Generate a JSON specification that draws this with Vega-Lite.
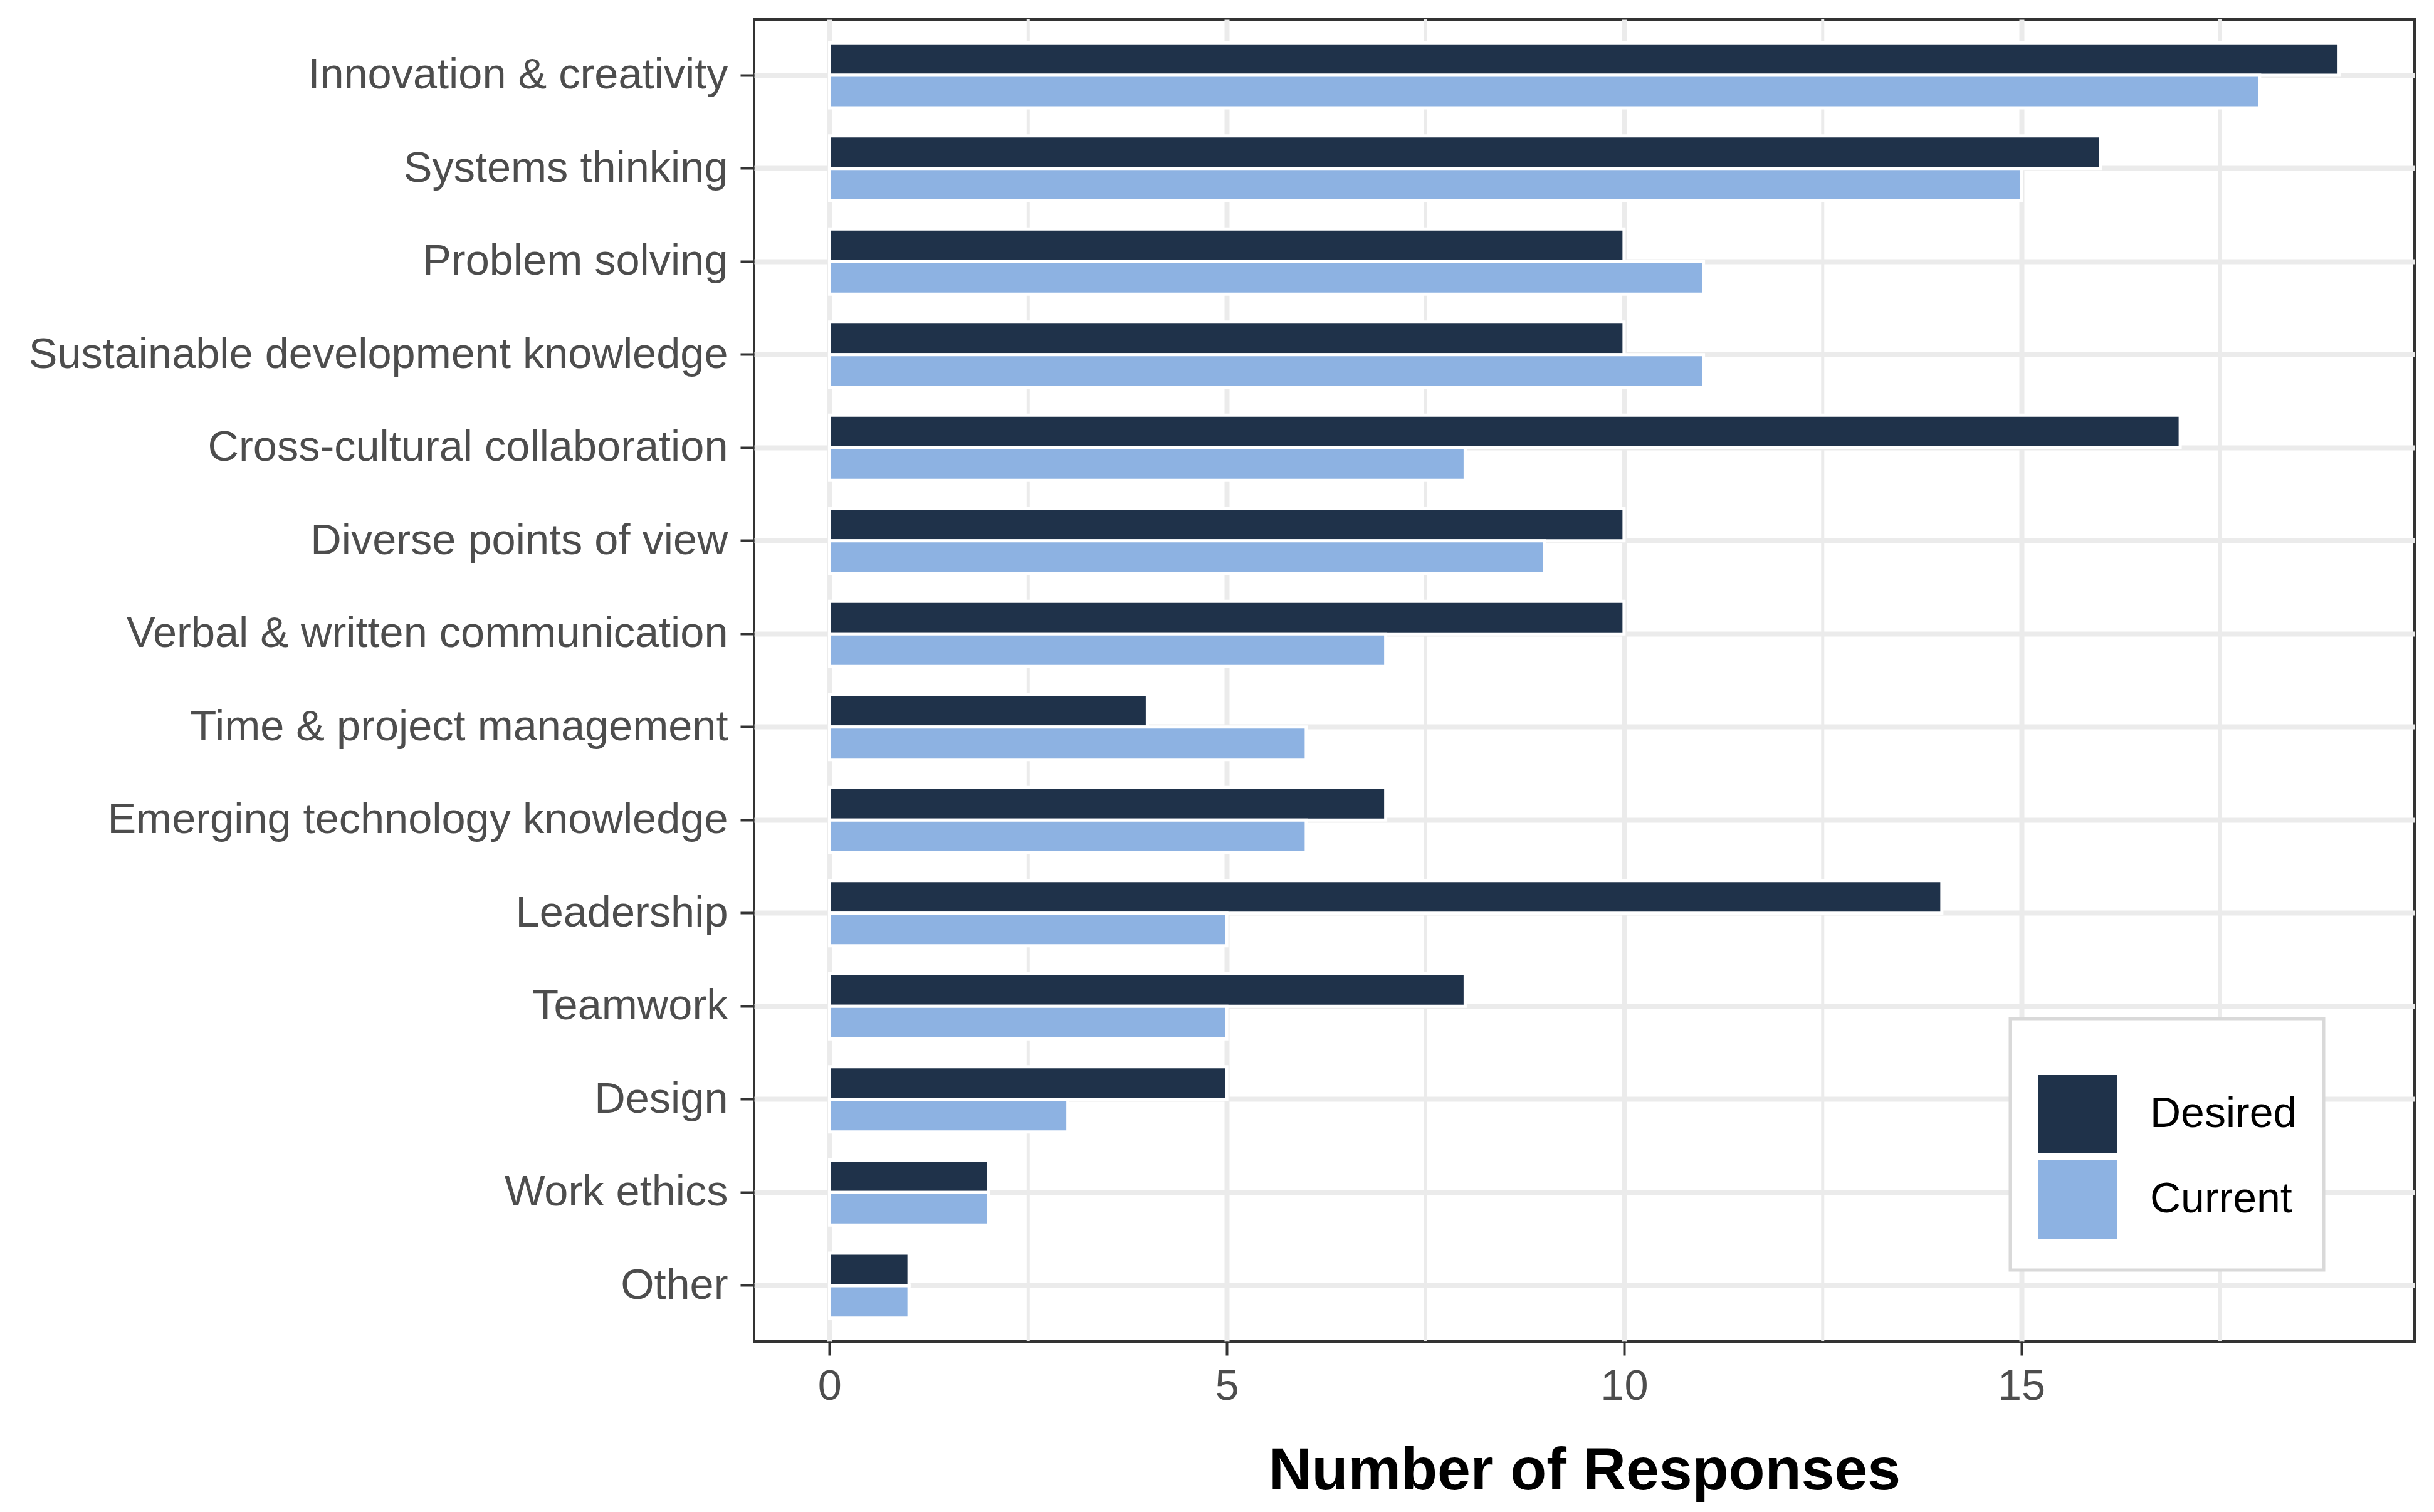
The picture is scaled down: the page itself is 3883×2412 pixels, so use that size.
{
  "$schema": "https://vega.github.io/schema/vega-lite/v6.json",
  "width": 2649,
  "height": 2109,
  "autosize": {"type": "none"},
  "padding": {"left": 1203, "top": 31, "right": 31, "bottom": 272},
  "background": "white",
  "config": {
    "view": {"stroke": "#333333", "strokeWidth": 4},
    "font": "Liberation Sans"
  },
  "datasets": {
    "minor": [{"v": 2.5}, {"v": 7.5}, {"v": 12.5}, {"v": 17.5}],
    "skills": [
      {"skill": "Innovation & creativity", "type": "Desired", "count": 19},
      {"skill": "Innovation & creativity", "type": "Current", "count": 18},
      {"skill": "Systems thinking", "type": "Desired", "count": 16},
      {"skill": "Systems thinking", "type": "Current", "count": 15},
      {"skill": "Problem solving", "type": "Desired", "count": 10},
      {"skill": "Problem solving", "type": "Current", "count": 11},
      {"skill": "Sustainable development knowledge", "type": "Desired", "count": 10},
      {"skill": "Sustainable development knowledge", "type": "Current", "count": 11},
      {"skill": "Cross-cultural collaboration", "type": "Desired", "count": 17},
      {"skill": "Cross-cultural collaboration", "type": "Current", "count": 8},
      {"skill": "Diverse points of view", "type": "Desired", "count": 10},
      {"skill": "Diverse points of view", "type": "Current", "count": 9},
      {"skill": "Verbal & written communication", "type": "Desired", "count": 10},
      {"skill": "Verbal & written communication", "type": "Current", "count": 7},
      {"skill": "Time & project management", "type": "Desired", "count": 4},
      {"skill": "Time & project management", "type": "Current", "count": 6},
      {"skill": "Emerging technology knowledge", "type": "Desired", "count": 7},
      {"skill": "Emerging technology knowledge", "type": "Current", "count": 6},
      {"skill": "Leadership", "type": "Desired", "count": 14},
      {"skill": "Leadership", "type": "Current", "count": 5},
      {"skill": "Teamwork", "type": "Desired", "count": 8},
      {"skill": "Teamwork", "type": "Current", "count": 5},
      {"skill": "Design", "type": "Desired", "count": 5},
      {"skill": "Design", "type": "Current", "count": 3},
      {"skill": "Work ethics", "type": "Desired", "count": 2},
      {"skill": "Work ethics", "type": "Current", "count": 2},
      {"skill": "Other", "type": "Desired", "count": 1},
      {"skill": "Other", "type": "Current", "count": 1}
    ]
  },
  "layer": [
    {
      "data": {"name": "minor"},
      "mark": {"type": "rule", "color": "#EBEBEB", "strokeWidth": 5},
      "encoding": {
        "x": {"field": "v", "type": "quantitative"}
      }
    },
    {
      "data": {"name": "skills"},
      "mark": {"type": "bar", "stroke": "white", "strokeWidth": 5},
      "encoding": {
        "y": {
          "field": "skill",
          "type": "nominal",
          "sort": ["Innovation & creativity", "Systems thinking", "Problem solving", "Sustainable development knowledge", "Cross-cultural collaboration", "Diverse points of view", "Verbal & written communication", "Time & project management", "Emerging technology knowledge", "Leadership", "Teamwork", "Design", "Work ethics", "Other"],
          "scale": {"paddingInner": 0.3, "paddingOuter": 0.25},
          "axis": {
            "title": null,
            "labelFontSize": 68.5,
            "labelColor": "#4D4D4D",
            "labelFont": "Liberation Sans",
            "labelLimit": 3000,
            "labelPadding": 20,
            "tickSize": 22,
            "tickWidth": 4,
            "tickColor": "#333333",
            "domain": false,
            "grid": true,
            "gridColor": "#EBEBEB",
            "gridWidth": 8,
            "bandPosition": 0.5
          }
        },
        "yOffset": {
          "field": "type",
          "sort": ["Desired", "Current"],
          "scale": {"paddingInner": 0, "paddingOuter": 0}
        },
        "x": {
          "field": "count",
          "type": "quantitative",
          "scale": {"domain": [-0.95, 19.95], "nice": false, "zero": false},
          "axis": {
            "title": "Number of Responses",
            "values": [0, 5, 10, 15],
            "format": "d",
            "labelFontSize": 68.5,
            "labelColor": "#4D4D4D",
            "labelFont": "Liberation Sans",
            "labelPadding": 16,
            "labelFlush": false,
            "labelOverlap": false,
            "tickSize": 22,
            "tickWidth": 4,
            "tickColor": "#333333",
            "domain": false,
            "grid": true,
            "gridColor": "#EBEBEB",
            "gridWidth": 8,
            "titleFontSize": 95,
            "titleFontWeight": "bold",
            "titleColor": "black",
            "titleFont": "Liberation Sans",
            "titlePadding": 55
          }
        },
        "x2": {"datum": 0},
        "color": {
          "field": "type",
          "type": "nominal",
          "scale": {"domain": ["Desired", "Current"], "range": ["#1F324A", "#8DB2E2"]},
          "legend": {
            "orient": "none",
            "legendX": 2004,
            "legendY": 1594,
            "title": " ",
            "titleFontSize": 36,
            "titlePadding": 9,
            "symbolType": "square",
            "symbolSize": 16384,
            "symbolStrokeColor": "white",
            "symbolStrokeWidth": 3,
            "symbolOpacity": 1,
            "labelFontSize": 68,
            "labelLimit": 1000,
            "labelColor": "black",
            "labelFont": "Liberation Sans",
            "labelOffset": 50,
            "rowPadding": -6,
            "padding": 42,
            "strokeColor": "#D9D9D9",
            "fillColor": "white",
            "encode": {"legend": {"update": {"strokeWidth": {"value": 5}}}}
          }
        }
      }
    }
  ]
}
